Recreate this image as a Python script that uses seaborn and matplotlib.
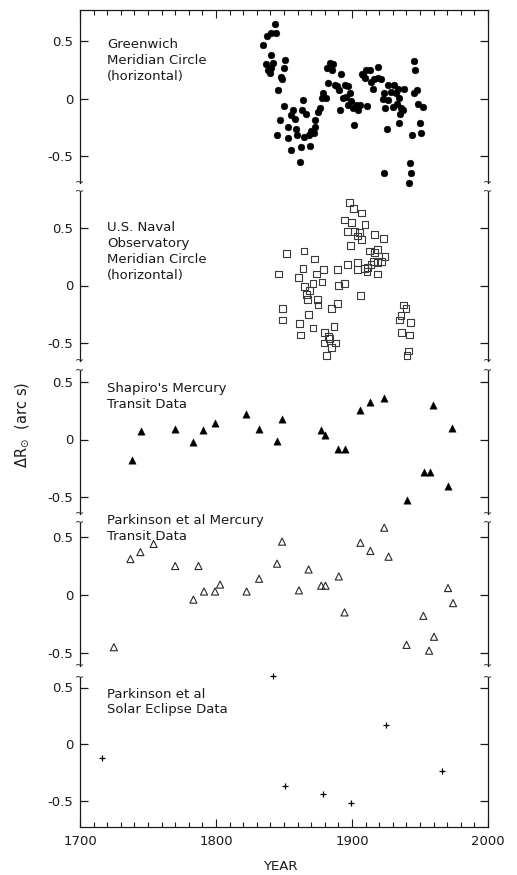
import numpy as np
import matplotlib
matplotlib.use("Agg")
import matplotlib.pyplot as plt
import seaborn as sns
from matplotlib.ticker import MultipleLocator, FixedLocator

# ---------------- data ----------------
greenwich_year = [1834.7, 1837.2, 1840.3, 1843.8, 1843.3, 1840.3, 1836.4, 1837.9, 1839.6, 1842.0,
                  1840.8, 1845.7, 1851.1, 1850.1, 1848.1, 1848.6, 1850.1, 1846.9, 1845.2, 1853.0,
                  1855.5, 1856.7, 1857.9, 1853.0, 1855.0, 1859.1, 1859.9, 1861.6, 1862.3, 1864.0,
                  1863.3, 1866.4, 1864.7, 1868.9, 1868.2, 1870.1, 1872.1, 1872.6, 1873.0, 1875.0,
                  1876.2, 1877.9, 1878.6, 1881.1, 1882.3, 1881.8, 1883.5, 1886.0, 1885.2, 1887.2,
                  1889.1, 1890.1, 1892.1, 1890.9, 1893.3, 1894.5, 1897.0, 1895.7, 1898.2, 1897.4,
                  1899.4, 1900.6, 1901.3, 1903.1, 1904.3, 1906.2, 1907.9, 1909.2, 1911.1, 1907.2,
                  1910.4, 1913.5, 1914.0, 1915.3, 1916.5, 1918.9, 1919.4, 1921.4, 1922.6, 1923.8,
                  1924.3, 1925.7, 1926.2, 1926.7, 1928.7, 1929.9, 1931.1, 1932.3, 1933.1, 1933.5,
                  1934.8, 1935.5, 1936.0, 1937.2, 1934.8, 1938.4, 1923.8, 1942.1, 1943.3, 1942.8,
                  1943.8, 1945.3, 1946.5, 1945.3, 1947.7, 1948.7, 1951.9, 1950.1, 1951.1]
greenwich_dr = [0.47, 0.55, 0.57, 0.57, 0.65, 0.38, 0.30, 0.25, 0.23, 0.31,
                0.27, 0.08, 0.34, 0.27, 0.19, 0.17, -0.06, -0.18, -0.31, -0.24,
                -0.14, -0.10, -0.17, -0.34, -0.44, -0.26, -0.31, -0.55, -0.42, -0.01,
                -0.10, -0.13, -0.33, -0.41, -0.31, -0.28, -0.30, -0.24, -0.18, -0.11,
                -0.08, 0.01, 0.05, 0.01, 0.14, 0.27, 0.31, 0.30, 0.25, 0.12,
                0.11, 0.08, 0.22, -0.10, 0.01, 0.12, 0.11, 0.02, 0.05, -0.05,
                -0.02, -0.08, -0.23, -0.05, -0.10, -0.05, 0.21, 0.18, -0.06, 0.22,
                0.25, 0.25, 0.15, 0.09, 0.17, 0.28, 0.18, 0.17, 0.00, 0.05,
                -0.08, -0.26, -0.01, 0.12, 0.06, -0.07, 0.12, 0.05, -0.04, 0.09,
                0.01, -0.13, -0.08, -0.10, -0.21, 0.09, -0.64, -0.73, -0.64, -0.56,
                -0.31, 0.33, 0.25, 0.05, 0.08, -0.04, -0.07, -0.21, -0.30]

usno_year = [1898.2, 1901.3, 1907.2, 1894.5, 1899.4, 1909.6, 1896.5, 1901.8, 1905.5, 1904.3,
             1907.2, 1916.5, 1923.3, 1898.9, 1912.8, 1918.9, 1916.5, 1924.3, 1921.8, 1918.9,
             1916.0, 1914.0, 1911.6, 1909.2, 1904.3, 1903.8, 1896.5, 1889.6, 1911.1, 1918.9,
             1851.8, 1864.7, 1872.5, 1864.0, 1879.1, 1845.7, 1860.8, 1873.8, 1871.3, 1877.9,
             1865.2, 1868.9, 1866.4, 1867.2, 1874.5, 1875.0, 1890.1, 1894.5, 1906.2, 1889.1,
             1885.2, 1848.9, 1848.9, 1868.2, 1861.6, 1871.3, 1862.3, 1886.7, 1879.9, 1882.8,
             1883.5, 1887.7, 1879.4, 1885.2, 1881.1, 1938.0, 1939.7, 1936.0, 1934.8, 1943.3,
             1936.5, 1942.1, 1941.4, 1940.4]
usno_dr = [0.72, 0.67, 0.63, 0.57, 0.55, 0.53, 0.47, 0.47, 0.46, 0.43,
           0.40, 0.44, 0.41, 0.35, 0.30, 0.31, 0.29, 0.25, 0.21, 0.20,
           0.21, 0.18, 0.16, 0.15, 0.20, 0.14, 0.18, 0.14, 0.12, 0.10,
           0.28, 0.30, 0.23, 0.15, 0.14, 0.10, 0.07, 0.10, 0.02, 0.03,
           -0.01, -0.04, -0.08, -0.12, -0.12, -0.17, 0.00, 0.02, -0.09, -0.16,
           -0.20, -0.20, -0.30, -0.25, -0.33, -0.37, -0.43, -0.36, -0.41, -0.44,
           -0.46, -0.50, -0.50, -0.54, -0.61, -0.17, -0.20, -0.26, -0.30, -0.32,
           -0.41, -0.43, -0.57, -0.61]

shapiro_year = [1738.3, 1744.9, 1770.0, 1783.4, 1790.3, 1799.3, 1822.0, 1831.7, 1844.9, 1848.6,
                1877.4, 1880.5, 1889.6, 1894.5, 1905.9, 1913.5, 1923.7, 1940.3, 1953.0, 1957.4,
                1959.9, 1970.6, 1973.8]
shapiro_dr = [-0.18, 0.07, 0.09, -0.02, 0.08, 0.14, 0.22, 0.09, -0.01, 0.18,
              0.08, 0.04, -0.08, -0.08, 0.26, 0.33, 0.36, -0.53, -0.28, -0.28,
              0.30, -0.41, 0.10]

parkinson_mt_year = [1724.9, 1737.1, 1744.4, 1754.1, 1770.0, 1787.1, 1783.4, 1791.2, 1799.3, 1803.0,
                     1822.5, 1831.7, 1844.9, 1848.6, 1861.0, 1868.1, 1877.4, 1880.5, 1890.3, 1894.5,
                     1906.2, 1913.5, 1923.7, 1926.9, 1940.1, 1952.5, 1956.7, 1960.3, 1970.6, 1974.3]
parkinson_mt_dr = [-0.45, 0.31, 0.37, 0.44, 0.25, 0.25, -0.04, 0.03, 0.03, 0.09,
                   0.03, 0.14, 0.27, 0.46, 0.04, 0.22, 0.08, 0.08, 0.16, -0.15,
                   0.45, 0.38, 0.58, 0.33, -0.43, -0.18, -0.48, -0.36, 0.06, -0.07]

eclipse_year = [1716.3, 1842.0, 1851.0, 1878.6, 1899.3, 1925.0, 1966.5]
eclipse_dr = [-0.12, 0.60, -0.37, -0.44, -0.52, 0.17, -0.24]

panel_labels = ["Greenwich\nMeridian Circle\n(horizontal)",
                "U.S. Naval\nObservatory\nMeridian Circle\n(horizontal)",
                "Shapiro's Mercury\nTransit Data",
                "Parkinson et al Mercury\nTransit Data",
                "Parkinson et al\nSolar Eclipse Data"]
ytick_vals = [-0.5, 0.0, 0.5]
ytick_text = ["-0.5", "0", "0.5"]
xtick_vals = [1700, 1800, 1900, 2000]
xtick_text = ["1700", "1800", "1900", "2000"]

# ---------------- layout ----------------
W, H = 517, 875
fig = plt.figure(figsize=(W / 100, H / 100), dpi=100)
plt.rcParams['font.family'] = ['DejaVu Sans']
ink = "#1a1a1a"

# (top px, bottom px, zero px, px per unit)
geom = [(10, 183, 99, 115), (192, 361, 285.5, 115), (371, 514, 439.5, 114.5),
        (523, 666, 595, 116), (678, 827, 744, 113)]
left_px, right_px = 80, 488
label_pos = [0.53, 0.56, 0.50, 0.70, 0.50]

datasets = [(greenwich_year, greenwich_dr), (usno_year, usno_dr), (shapiro_year, shapiro_dr),
            (parkinson_mt_year, parkinson_mt_dr), (eclipse_year, eclipse_dr)]
styles = [dict(marker="o", s=24, color="black", edgecolor="black", linewidth=0.3),
          dict(marker="s", s=24, facecolor="none", edgecolor="#3a3a3a", linewidth=0.8),
          dict(marker="^", s=28, color="black", edgecolor="black", linewidth=0.3),
          dict(marker="^", s=26, facecolor="none", edgecolor="#2a2a2a", linewidth=0.8),
          dict(marker="+", s=20, color="black", linewidth=0.9)]

axes = []
for i, ((top, bot, zero, scale), (xs, ys), st) in enumerate(zip(geom, datasets, styles)):
    ax = fig.add_axes([left_px / W, 1 - bot / H, (right_px - left_px) / W, (bot - top) / H])
    sns.scatterplot(x=xs, y=ys, ax=ax, legend=False, clip_on=False, **st)
    ax.set_xlim(1700, 2000)
    ax.set_ylim((zero - bot) / scale, (zero - top) / scale)
    ax.yaxis.set_major_locator(FixedLocator(ytick_vals))
    ax.set_yticklabels(ytick_text)
    ax.xaxis.set_major_locator(FixedLocator(xtick_vals))
    ax.xaxis.set_minor_locator(MultipleLocator(10))
    ax.set_xlabel("")
    ax.set_ylabel("")
    for sp in ax.spines.values():
        sp.set_color(ink)
        sp.set_linewidth(0.9)
    ax.spines["top"].set_visible(i == 0)
    ax.spines["bottom"].set_visible(i == 4)
    ax.tick_params(axis="y", which="major", direction="in", left=True, right=True,
                   length=6, width=0.9, color=ink, labelsize=9.5, labelcolor=ink, pad=5)
    ax.tick_params(axis="x", which="both", direction="in", top=(i == 0), bottom=(i == 4),
                   labelbottom=(i == 4), labeltop=False, color=ink, width=0.8,
                   labelsize=9.5, labelcolor=ink, pad=6)
    ax.tick_params(axis="x", which="major", length=6)
    ax.tick_params(axis="x", which="minor", length=3.5)
    if i == 4:
        ax.set_xticklabels(xtick_text)
    ax.text(1720, label_pos[i], panel_labels[i], ha="left", va="top", fontsize=9.5,
            color=ink, linespacing=1.3)
    # axis break marks
    ends = []
    if i < 4:
        ends.append(0)
    if i > 0:
        ends.append(1)
    for yy in ends:
        for xx in (0, 1):
            ax.text(xx, yy, "~", transform=ax.transAxes, ha="center", va="center",
                    fontsize=8, color=ink, clip_on=False)
    ax.set_facecolor("none")
    axes.append(ax)

fig.text(22 / W, 1 - 425 / H, r"$\Delta\mathrm{R}_{\odot}$  (arc s)", rotation=90, ha="center",
         va="center", fontsize=10.5, color=ink)
fig.text(280 / W, 1 - 866 / H, "YEAR", ha="center", va="center", fontsize=9.5, color=ink)

fig.savefig("out.png", dpi=100, facecolor="white")
